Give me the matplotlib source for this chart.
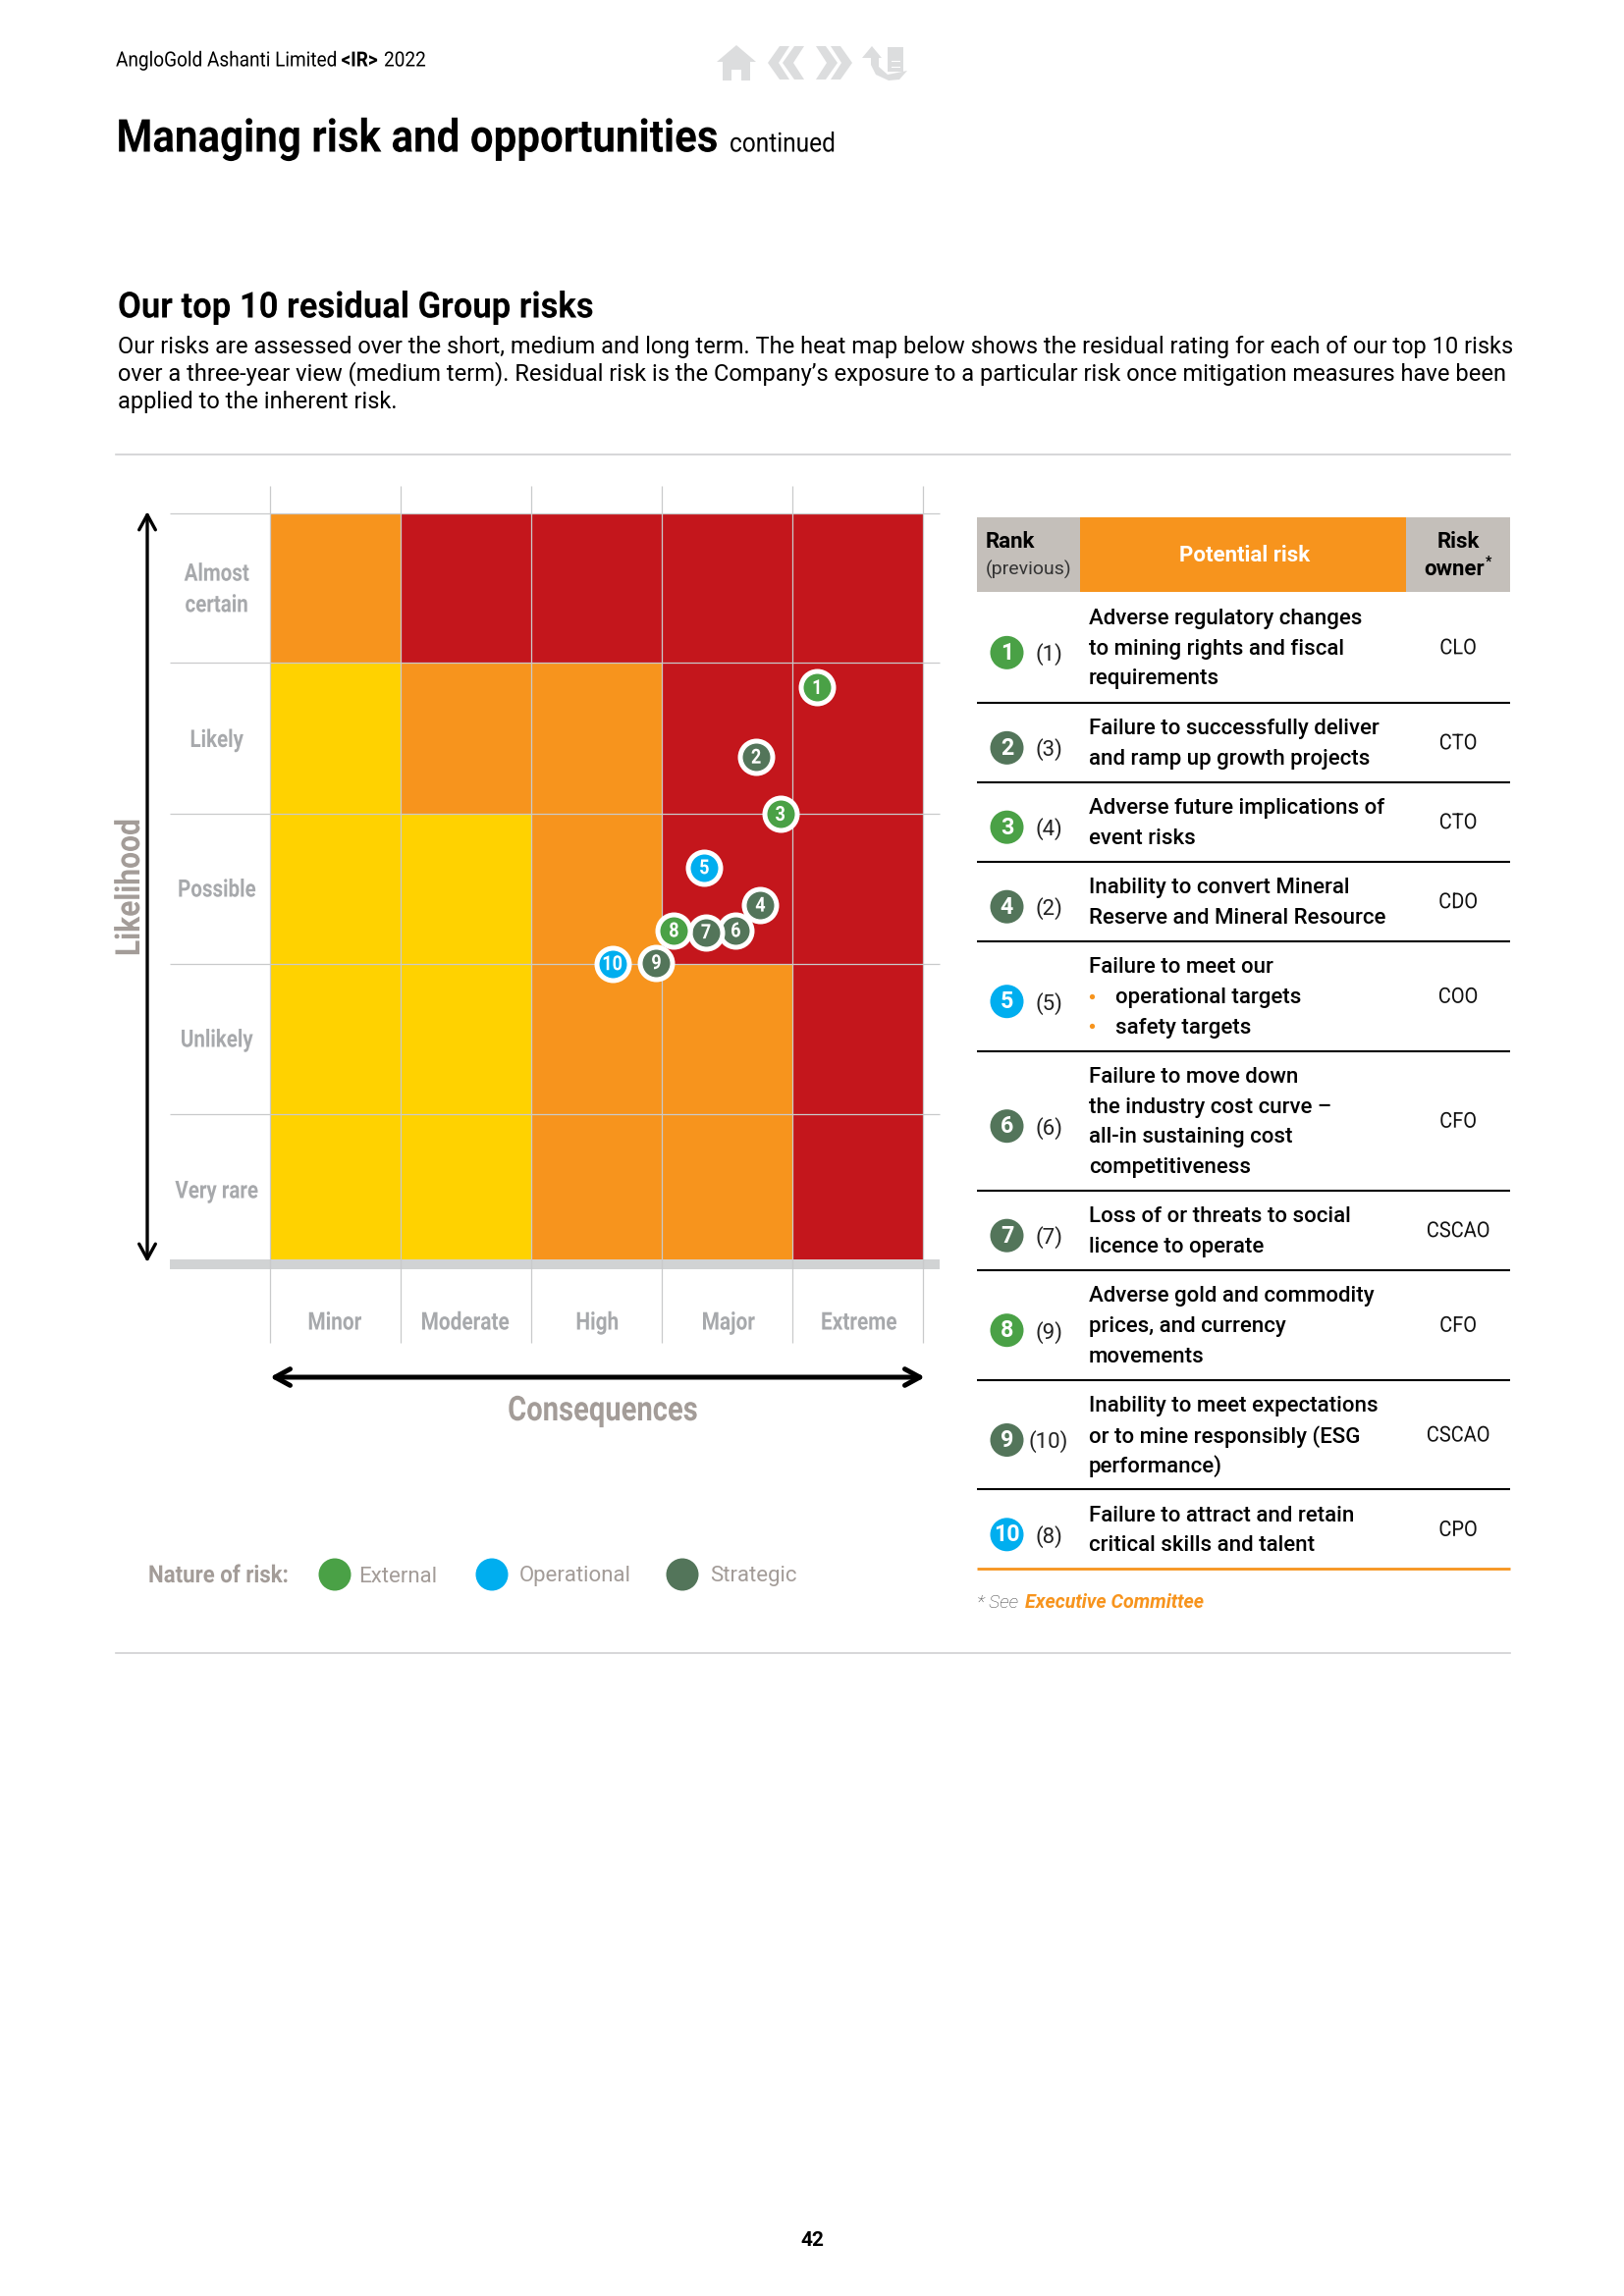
#!/usr/bin/env python3
import numpy as np
import matplotlib
matplotlib.use('Agg')
import matplotlib.pyplot as plt
from matplotlib.colors import ListedColormap
from matplotlib.patches import Polygon, Circle, Rectangle
from matplotlib.patheffects import AbstractPathEffect
from matplotlib.transforms import Affine2D

# heat map data, bottom row first (0 yellow, 1 orange, 2 red)
consequences = ['Minor', 'Moderate', 'High', 'Major', 'Extreme']
likelihood = ['Very rare', 'Unlikely', 'Possible', 'Likely', 'Almost\ncertain']
levels = [[0, 0, 1, 1, 2],
          [0, 0, 1, 1, 2],
          [0, 0, 1, 2, 2],
          [0, 1, 1, 2, 2],
          [1, 2, 2, 2, 2]]
row_edges = [0, 0.973, 1.976, 2.982, 3.997, 5]

# risks
rank = [1, 2, 3, 4, 5, 6, 7, 8, 9, 10]
previous = [1, 3, 4, 2, 5, 6, 7, 9, 10, 8]
nature = ['External', 'Strategic', 'External', 'Strategic', 'Operational',
          'Strategic', 'Strategic', 'External', 'Strategic', 'Operational']
risk_x = [4.194, 3.726, 3.911, 3.759, 3.329, 3.570, 3.342, 3.097, 2.962, 2.625]
risk_y = [3.830, 3.365, 2.982, 2.373, 2.625, 2.203, 2.192, 2.203, 1.988, 1.981]
owners = ['CLO', 'CTO', 'CTO', 'CDO', 'COO', 'CFO', 'CSCAO', 'CFO', 'CSCAO', 'CPO']
risks = [['Adverse regulatory changes', 'to mining rights and fiscal', 'requirements'],
         ['Failure to successfully deliver', 'and ramp up growth projects'],
         ['Adverse future implications of', 'event risks'],
         ['Inability to convert Mineral', 'Reserve and Mineral Resource'],
         ['Failure to meet our', '*operational targets', '*safety targets'],
         ['Failure to move down', 'the industry cost curve \u2013', 'all-in sustaining cost', 'competitiveness'],
         ['Loss of or threats to social', 'licence to operate'],
         ['Adverse gold and commodity', 'prices, and currency', 'movements'],
         ['Inability to meet expectations', 'or to mine responsibly (ESG', 'performance)'],
         ['Failure to attract and retain', 'critical skills and talent']]
body = ['Our risks are assessed over the short, medium and long term. The heat map below shows the residual rating for each of our top 10 risks',
        'over a three-year view (medium term). Residual risk is the Company\u2019s exposure to a particular risk once mitigation measures have been',
        'applied to the inherent risk.']

col_nature = {'External': '#4aa146', 'Operational': '#00aeef', 'Strategic': '#53755a'}
ORANGE = '#f7941d'
GREY_T = '#a39c98'
GREY_L = '#a7a9ac'
LINE = '#cfd0d2'
NAV = '#dcddde'


class Tall(AbstractPathEffect):
    # Roboto Condensed is not installed: stretch glyphs up from the baseline instead
    def __init__(self, sy):
        super().__init__()
        self.sy = sy

    def draw_path(self, renderer, gc, tpath, affine, rgbFace=None):
        renderer.draw_path(gc, tpath, Affine2D().scale(1, self.sy) + affine, rgbFace)


fig = plt.figure(figsize=(8.27, 11.695), dpi=200)
W, H = 1654.0, 2339.0
page = fig.add_axes([0, 0, 1, 1])
page.set_xlim(0, W)
page.set_ylim(H, 0)
page.axis('off')


def txt(x, y, s, size, color='k', weight='normal', ha='left', va='center', sy=None, **kw):
    t = page.text(x, y, s, fontsize=size, color=color, fontweight=weight, ha=ha, va=va,
                  family='Roboto', **kw)
    if sy:
        t.set_path_effects([Tall(sy)])
    return t


# header
txt(118, 62.5, 'AngloGold Ashanti Limited', 6.85, sy=1.1)
txt(347.5, 62.5, '<IR>', 6.85, weight='bold', sy=1.1)
txt(391, 62.5, '2022', 6.85, sy=1.1)
txt(118.5, 143, 'Managing risk and opportunities', 15.15, weight='bold', sy=1.1)
txt(743, 148, 'continued', 8.8, sy=1.12)

# nav icons
page.add_patch(Polygon([(730, 63), (750, 46), (770, 63), (764, 63), (764, 82), (755, 82), (755, 71),
                        (745, 71), (745, 82), (736, 82), (736, 63)], fc=NAV, ec='none'))
for dx in (0, 15):
    page.add_patch(Polygon([(782+dx, 64), (794+dx, 47), (804+dx, 47), (793+dx, 64), (804+dx, 81), (794+dx, 81)],
                           fc=NAV, ec='none'))
for dx in (0, -15):
    page.add_patch(Polygon([(868+dx, 64), (856+dx, 47), (846+dx, 47), (857+dx, 64), (846+dx, 81), (856+dx, 81)],
                           fc=NAV, ec='none'))
page.add_patch(Polygon([(878, 59), (888, 47), (898, 59), (895, 59), (895, 68), (904, 76), (924, 72), (916, 81),
                        (905, 82), (892, 76), (887, 66), (887, 59)], fc=NAV, ec='none'))
page.add_patch(Rectangle((904, 48), 16, 25, fc=NAV, ec='none'))
page.plot([908, 916], [62, 62], color='white', lw=0.4)
page.plot([908, 916], [68, 68], color='white', lw=0.4)

# section intro
txt(120, 314, 'Our top 10 residual Group risks', 12.45, weight='bold', sy=1.06)
for yy, line in zip([353.5, 381, 409.5], body):
    txt(120, yy, line, 8.5)
page.plot([118, 1538], [463, 463], color=LINE, lw=0.6)
page.plot([118, 1538], [1684, 1684], color=LINE, lw=0.6)

# heat map
ax = fig.add_axes([274.5/W, 1-1283/H, 665/W, (1283-522.5)/H], zorder=2)
ax.patch.set_alpha(0)
cmap = ListedColormap(['#ffd200', ORANGE, '#c4161c'])
ax.pcolormesh(np.arange(6), row_edges, np.array(levels), cmap=cmap, vmin=0, vmax=2, shading='flat')
ax.set_xlim(0, 5)
ax.set_ylim(0, 5)
ax.axis('off')

# grid runs past the coloured area
ax.hlines(row_edges[1:], -0.76, 5.13, color='#c9cacb', lw=0.45, clip_on=False, zorder=2)
ax.vlines(np.arange(6), -0.56, 5.18, color='#c9cacb', lw=0.45, clip_on=False, zorder=2)
page.add_patch(Rectangle((173, 1283), 784, 10, fc='#d1d3d4', ec='none'))

# draw order follows the overlaps in the cluster
order = [0, 1, 2, 4, 3, 5, 6, 7, 8, 9]
for z, i in enumerate(order):
    ax.scatter(risk_x[i], risk_y[i], s=141, color=col_nature[nature[i]], edgecolor='white',
               linewidth=1.8, clip_on=False, zorder=3+z)
    t = ax.text(risk_x[i], risk_y[i]-0.01, str(rank[i]), color='white', fontsize=6.5, fontweight='bold',
                ha='center', va='center', family='Roboto', zorder=3+z)
    t.set_path_effects([Tall(1.15)])

# axis labels
for yy, lab in zip([1215, 1061, 908, 755.5, 602], likelihood):
    txt(220.6, yy, lab, 7.4, color=GREY_L, weight='bold', ha='center', sy=1.2, linespacing=1.85)
for xx, lab in zip([341, 474, 608.4, 742, 875], consequences):
    txt(xx, 1349, lab, 7.5, color=GREY_L, weight='bold', ha='center', sy=1.2)
txt(134, 904, 'Likelihood', 10.8, color=GREY_T, weight='bold', ha='center', rotation=90, sy=1.15)
txt(614, 1439, 'Consequences', 10.5, color=GREY_T, weight='bold', ha='center', sy=1.2)
page.annotate('', xy=(150, 521), xytext=(150, 1286),
              arrowprops=dict(arrowstyle='<->,head_length=0.55,head_width=0.3', color='k', lw=1.2, shrinkA=0, shrinkB=0))
page.annotate('', xy=(275, 1403), xytext=(942, 1403),
              arrowprops=dict(arrowstyle='<->,head_length=0.55,head_width=0.3', color='k', lw=1.8, shrinkA=0, shrinkB=0))

# legend
txt(151, 1606, 'Nature of risk:', 8.0, color=GREY_T, weight='bold', sy=1.1)
for key, cx, tx in zip(['External', 'Operational', 'Strategic'], [341, 501, 695], [365, 529, 723]):
    page.add_patch(Circle((cx, 1604), 16.5, fc=col_nature[key], ec='none'))
    txt(tx, 1606, key, 8.0, color=GREY_T)

# table
page.add_patch(Rectangle((995, 527), 105, 76, fc='#c4bfba', ec='none'))
page.add_patch(Rectangle((1100, 527), 332, 76, fc=ORANGE, ec='none'))
page.add_patch(Rectangle((1432, 527), 106, 76, fc='#c4bfba', ec='none'))
txt(1004, 551.5, 'Rank', 8, weight='bold')
txt(1004, 580.5, '(previous)', 7, color='#333333')
txt(1268, 565.5, 'Potential risk', 8, color='white', weight='bold', ha='center')
txt(1485.5, 551.5, 'Risk', 8, weight='bold', ha='center')
txt(1481, 580.5, 'owner', 8, weight='bold', ha='center')
txt(1516, 573, '*', 5, weight='bold', ha='center')

row_lines = [602.7, 716, 796.7, 877.7, 958.7, 1070.7, 1212.7, 1293.7, 1405.7, 1517.3, 1598.3]
for yy in row_lines[1:-1]:
    page.plot([995, 1538], [yy, yy], color='k', lw=0.75, solid_capstyle='butt')
page.plot([995, 1538], [row_lines[-1]]*2, color=ORANGE, lw=1.0, solid_capstyle='butt')
for i in range(10):
    mid = (row_lines[i]+row_lines[i+1])/2
    page.add_patch(Circle((1025.5, mid+5.5), 17, fc=col_nature[nature[i]], ec='none'))
    txt(1025.5, mid+6, str(rank[i]), 8.4, color='white', weight='bold', ha='center')
    txt(1068, mid+7.5, '(%d)' % previous[i], 8, color='#222222', ha='center')
    txt(1485, mid+1.5, owners[i], 7.2, color='#111111', ha='center', sy=1.1)
    n = len(risks[i])
    for j, line in enumerate(risks[i]):
        yy = mid + (j-(n-1)/2)*30.6 + 1.8
        if line.startswith('*'):
            page.plot(1112.4, yy-2, 'o', color=ORANGE, ms=1.9, mew=0)
            txt(1136, yy, line[1:], 8.0, weight='medium')
        else:
            txt(1109, yy, line, 8.0, weight='medium')

txt(995, 1632.5, '* See', 6.9, color='#444444', style='italic', weight='light')
txt(1043.6, 1632.5, 'Executive Committee', 7.05, color=ORANGE, style='italic', weight='bold')
txt(827, 2283, '42', 7.5, weight='bold', ha='center')

fig.savefig('out.png', dpi=200)
